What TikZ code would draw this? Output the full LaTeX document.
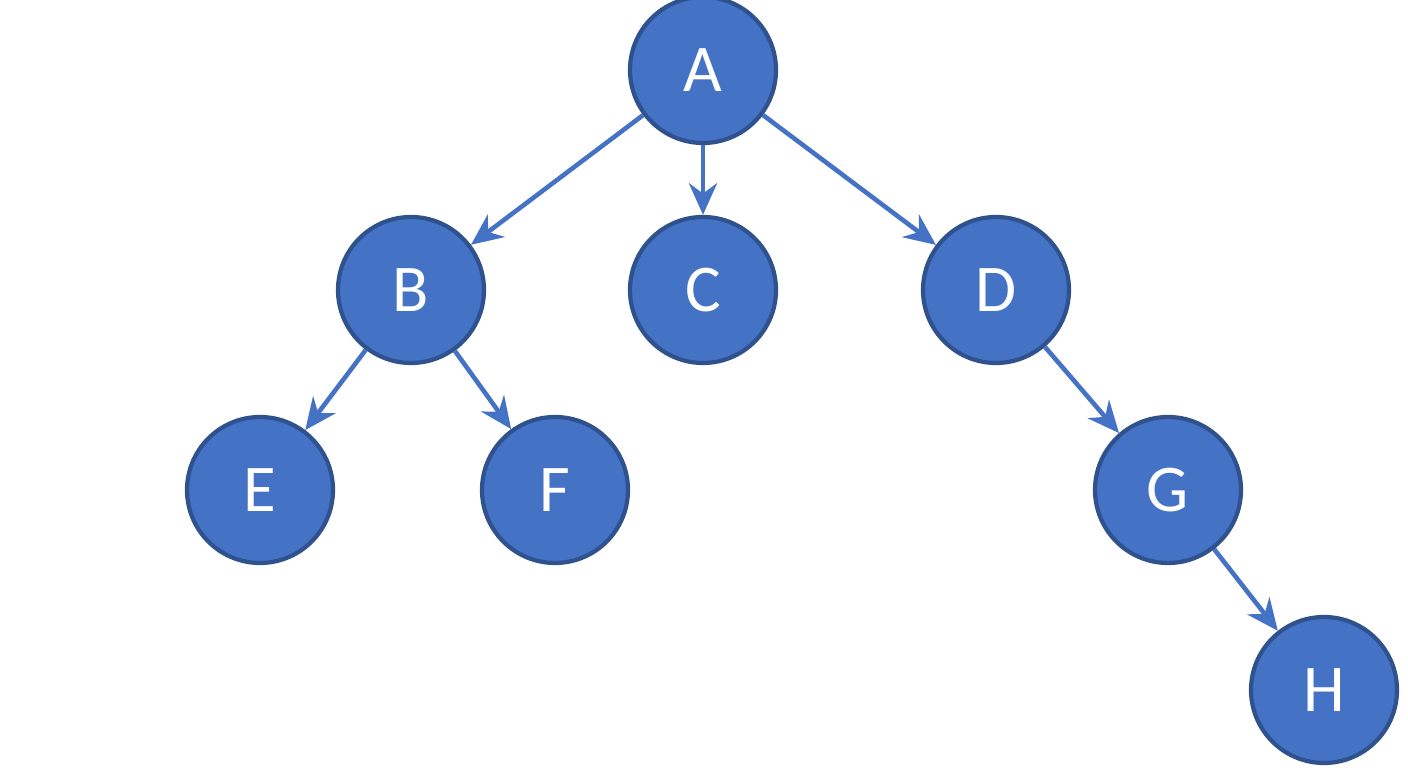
\documentclass[tikz,border=0pt]{standalone}
\usepackage{fontspec}
\setmainfont{Carlito}
\usetikzlibrary{arrows.meta}
\definecolor{nodeblue}{HTML}{4472C4}
\definecolor{edgeblue}{HTML}{2F528F}
\begin{document}
\begin{tikzpicture}[
        vertex/.style={circle, draw=edgeblue, fill=nodeblue, line width=1.2pt, minimum size=1.46cm, text=white, font=\fontsize{19}{22}\selectfont},
        tree_link/.style={-{Stealth[length=9pt, width=8pt]}, line width=1.3pt, nodeblue}
    ]
    \useasboundingbox (0,0) rectangle (14.08,7.68);

    \node[vertex] (a) at (7.03, 6.98) {A};
    \node[vertex] (b) at (4.11, 4.78) {B};
    \node[vertex] (c) at (7.03, 4.78) {C};
    \node[vertex] (d) at (9.96, 4.78) {D};
    \node[vertex] (e) at (2.60, 2.78) {E};
    \node[vertex] (f) at (5.55, 2.78) {F};
    \node[vertex] (g) at (11.68, 2.78) {G};
    \node[vertex] (h) at (13.24, 0.78) {H};

    \draw[tree_link] (a) -- (b);
    \draw[tree_link] (a) -- (c);
    \draw[tree_link] (a) -- (d);
    \draw[tree_link] (b) -- (e);
    \draw[tree_link] (b) -- (f);
    \draw[tree_link] (d) -- (g);
    \draw[tree_link] (g) -- (h);
\end{tikzpicture}
\end{document}
